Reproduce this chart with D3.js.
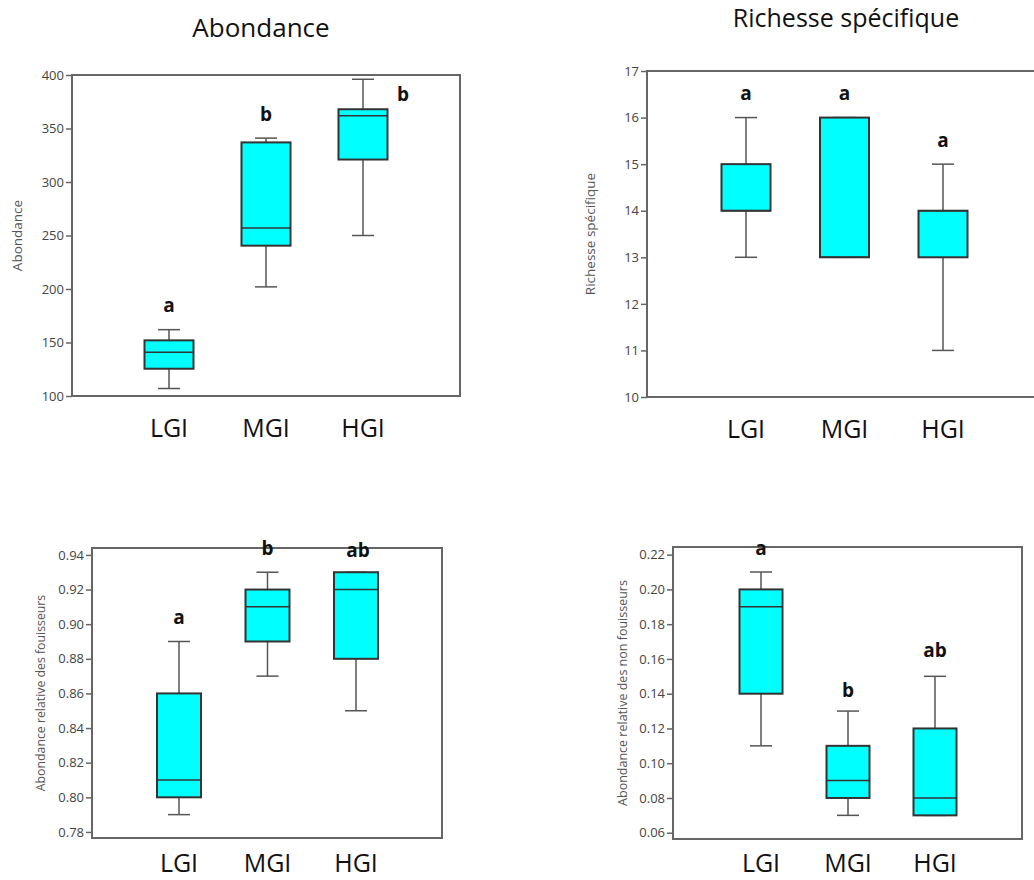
<!DOCTYPE html>
<html>
<head>
<meta charset="utf-8">
<script src="https://cdn.jsdelivr.net/npm/d3@7"></script>
<style>
  body { margin: 0; background: #fff; }
  svg { display: block; font-family: "Open Sans", "DejaVu Sans", sans-serif; }
</style>
</head>
<body>
<div id="chart"></div>
<script>
// Groups
var groups = ['LGI', 'MGI', 'HGI']

// Box stats: [min, q1, median, q3, max] per group
var abondanceStats = [
  [107, 125.5, 141, 152, 162],
  [202, 240.5, 257, 337, 341],
  [250, 321, 362, 368, 396]
]
var richesseStats = [
  [13, 14, 14, 15, 16],
  [13, 13, 13, 16, 16],
  [11, 13, 14, 14, 15]
]
var fouisseursStats = [
  [0.79, 0.80, 0.81, 0.86, 0.89],
  [0.87, 0.89, 0.91, 0.92, 0.93],
  [0.85, 0.88, 0.92, 0.93, 0.93]
]
var nonFouisseursStats = [
  [0.11, 0.14, 0.19, 0.20, 0.21],
  [0.07, 0.08, 0.09, 0.11, 0.13],
  [0.07, 0.07, 0.08, 0.12, 0.15]
]

// Significance letters
var abondanceLetters = ['a', 'b', 'b']
var richesseLetters = ['a', 'a', 'a']
var fouisseursLetters = ['a', 'b', 'ab']
var nonFouisseursLetters = ['a', 'b', 'ab']

// Tick labels
var abondanceTicks = [100, 150, 200, 250, 300, 350, 400]
var richesseTicks = [10, 11, 12, 13, 14, 15, 16, 17]
var fouisseursTicks = [0.78, 0.80, 0.82, 0.84, 0.86, 0.88, 0.90, 0.92, 0.94]
var nonFouisseursTicks = [0.06, 0.08, 0.10, 0.12, 0.14, 0.16, 0.18, 0.20, 0.22]

var width = 1034
var height = 880

var svg = d3.select('#chart').append('svg')
  .attr('width', width)
  .attr('height', height)

function boxPanel(cfg) {
  var g = svg.append('g').attr('class', 'panel')

  var yScale = d3.scaleLinear()
    .domain(cfg.domain)
    .range([cfg.bottom, cfg.top])

  var xScale = d3.scalePoint()
    .domain(groups)
    .range(cfg.xRange)

  // Frame
  g.append('rect')
    .attr('x', cfg.left)
    .attr('y', cfg.top)
    .attr('width', cfg.right - cfg.left)
    .attr('height', cfg.bottom - cfg.top)
    .attr('fill', 'none')
    .attr('stroke', '#666')
    .attr('stroke-width', 2)

  // Y axis
  var yAxis = d3.axisLeft(yScale)
    .tickValues(cfg.ticks)
    .tickSize(6)
    .tickPadding(2)
    .tickFormat(cfg.format)

  var gy = g.append('g')
    .attr('transform', 'translate(' + cfg.left + ',0)')
    .call(yAxis)
  gy.select('.domain').remove()
  gy.selectAll('line').attr('stroke', '#666').attr('stroke-width', 1.5)
  gy.selectAll('text')
    .attr('fill', '#444')
    .style('font-size', '13px')
    .style('font-family', '"Open Sans", sans-serif')

  // Y title
  g.append('text')
    .attr('transform', 'translate(' + cfg.yTitleX + ',' + ((cfg.top + cfg.bottom) / 2) + ') rotate(-90)')
    .attr('text-anchor', 'middle')
    .attr('dy', '0.35em')
    .attr('fill', '#555')
    .style('font-size', cfg.yTitleSize + 'px')
    .text(cfg.yTitle)

  var half = cfg.boxWidth / 2
  var cap = 11

  var boxes = g.selectAll('.box')
    .data(cfg.stats)
    .enter().append('g')
    .attr('class', 'box')
    .attr('transform', function (d, i) {
      return 'translate(' + xScale(groups[i]) + ',0)'
    })

  // Whiskers
  boxes.append('line')
    .attr('x1', 0).attr('x2', 0)
    .attr('y1', function (d) { return yScale(d[0]) })
    .attr('y2', function (d) { return yScale(d[4]) })
    .attr('stroke', '#555')
    .attr('stroke-width', 1.5)

  boxes.selectAll('.cap')
    .data(function (d) { return [d[0], d[4]] })
    .enter().append('line')
    .attr('class', 'cap')
    .attr('x1', -cap).attr('x2', cap)
    .attr('y1', function (v) { return yScale(v) })
    .attr('y2', function (v) { return yScale(v) })
    .attr('stroke', '#555')
    .attr('stroke-width', 1.5)

  // Box
  boxes.append('rect')
    .attr('x', -half)
    .attr('width', cfg.boxWidth)
    .attr('y', function (d) { return yScale(d[3]) })
    .attr('height', function (d) { return yScale(d[1]) - yScale(d[3]) })
    .attr('fill', '#00ffff')
    .attr('stroke', '#333')
    .attr('stroke-width', 2)

  // Median
  boxes.append('line')
    .attr('x1', -half).attr('x2', half)
    .attr('y1', function (d) { return yScale(d[2]) })
    .attr('y2', function (d) { return yScale(d[2]) })
    .attr('stroke', '#333')
    .attr('stroke-width', 1.5)

  // Letters
  boxes.append('text')
    .attr('x', function (d, i) { return cfg.letterShift[i][0] })
    .attr('y', function (d, i) { return yScale(d[4]) - 24 + cfg.letterShift[i][1] })
    .attr('dy', '0.35em')
    .attr('text-anchor', 'middle')
    .attr('fill', '#111')
    .style('font-size', '19px')
    .style('font-weight', 'bold')
    .text(function (d, i) { return cfg.letters[i] })

  // X labels
  g.selectAll('.xlab')
    .data(groups)
    .enter().append('text')
    .attr('class', 'xlab')
    .attr('x', function (d) { return xScale(d) })
    .attr('y', cfg.xLabelY)
    .attr('text-anchor', 'middle')
    .attr('fill', '#111')
    .style('font-size', '25px')
    .text(function (d) { return d })

  if (cfg.title) {
    svg.append('text')
      .attr('x', cfg.titleX)
      .attr('y', cfg.titleY)
      .attr('text-anchor', 'middle')
      .attr('fill', '#111')
      .style('font-size', cfg.titleSize + 'px')
      .text(cfg.title)
  }
}

boxPanel({
  stats: abondanceStats, letters: abondanceLetters, ticks: abondanceTicks,
  domain: [100, 400], format: d3.format('d'),
  left: 72, top: 75, right: 460, bottom: 396,
  xRange: [169, 363], boxWidth: 49, xLabelY: 437,
  letterShift: [[0, 0], [0, 0], [40, 39]],
  yTitle: 'Abondance', yTitleX: 17, yTitleSize: 13.5,
  title: 'Abondance', titleX: 261, titleY: 37, titleSize: 26
})

boxPanel({
  stats: richesseStats, letters: richesseLetters, ticks: richesseTicks,
  domain: [10, 17], format: d3.format('d'),
  left: 647, top: 71, right: 1041, bottom: 397,
  xRange: [746, 943], boxWidth: 49, xLabelY: 438,
  letterShift: [[0, 0], [0, 0], [0, 0]],
  yTitle: 'Richesse spécifique', yTitleX: 590, yTitleSize: 13.5,
  title: 'Richesse spécifique', titleX: 846, titleY: 27, titleSize: 25
})

boxPanel({
  stats: fouisseursStats, letters: fouisseursLetters, ticks: fouisseursTicks,
  domain: [0.7765, 0.944], format: d3.format('.2f'),
  left: 92, top: 548, right: 442, bottom: 838,
  xRange: [179, 356], boxWidth: 44, xLabelY: 872,
  letterShift: [[0, 0], [0, 0], [2, 2]],
  yTitle: 'Abondance relative des fouisseurs', yTitleX: 41, yTitleSize: 12.3
})

boxPanel({
  stats: nonFouisseursStats, letters: nonFouisseursLetters, ticks: nonFouisseursTicks,
  domain: [0.0564, 0.2244], format: d3.format('.2f'),
  left: 673, top: 547, right: 1022, bottom: 839,
  xRange: [761, 935], boxWidth: 43, xLabelY: 872,
  letterShift: [[0, 0], [0, 3], [0, -2]],
  yTitle: 'Abondance relative des non fouisseurs', yTitleX: 623, yTitleSize: 12.5
})
</script>
</body>
</html>
